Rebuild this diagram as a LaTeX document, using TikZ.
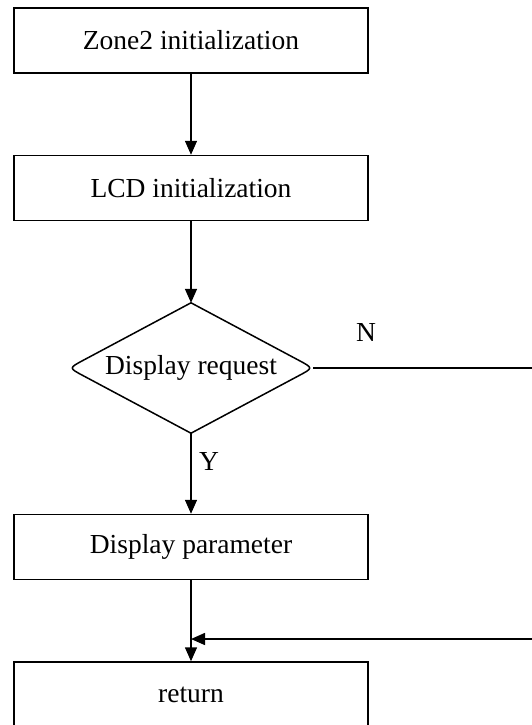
\documentclass[tikz,border=0pt]{standalone}
\usepackage{fontspec}
\setmainfont{Liberation Serif}
\usetikzlibrary{arrows.meta,shapes.geometric,calc}
\begin{document}
\begin{tikzpicture}[x=1pt,y=1pt,
  every node/.style={font=\fontsize{27.5}{30}\selectfont},
  procbox/.style={draw,line width=1.5pt,minimum width=354pt,minimum height=65pt,inner sep=0pt},
  conn/.style={line width=1.5pt},
  arr/.style={conn,-{Triangle[length=14pt,width=12pt]}}]
\clip (0,0) rectangle (532,-725);
\node[procbox] (b1) at (191,-40.5) {Zone2 initialization};
\node[procbox] (b2) at (191,-188) {LCD initialization};
\node[diamond,shape aspect=1.88,minimum width=244pt,minimum height=130pt,inner sep=0pt] (d) at (191,-368) {Display request};
\draw[conn] (d.north) -- ($(d.east)!16pt!(d.north)$) .. controls (d.east) .. ($(d.east)!16pt!(d.south)$) -- (d.south) -- ($(d.west)!16pt!(d.south)$) .. controls (d.west) .. ($(d.west)!16pt!(d.north)$) -- cycle;
\node[procbox] (b3) at (191,-547) {Display parameter};
\node[procbox,minimum height=66pt] (ret) at (191,-695) {return};
\coordinate (r1) at (532,-368);
\coordinate (r2) at (532,-639);
\coordinate (m) at (191,-639);
\draw[arr] (b1) -- (b2);
\draw[arr] (b2) -- (d.north);
\draw[arr] (d.south) -- node[right=4pt,pos=0.35] (ylab) {Y} (b3);
\draw[arr] (b3) -- (ret);
\draw[conn] (d.east) -- (r1);
\draw[arr] (r2) -- (m);
\node (nlab) at (366,-332) {N};
\end{tikzpicture}
\end{document}
